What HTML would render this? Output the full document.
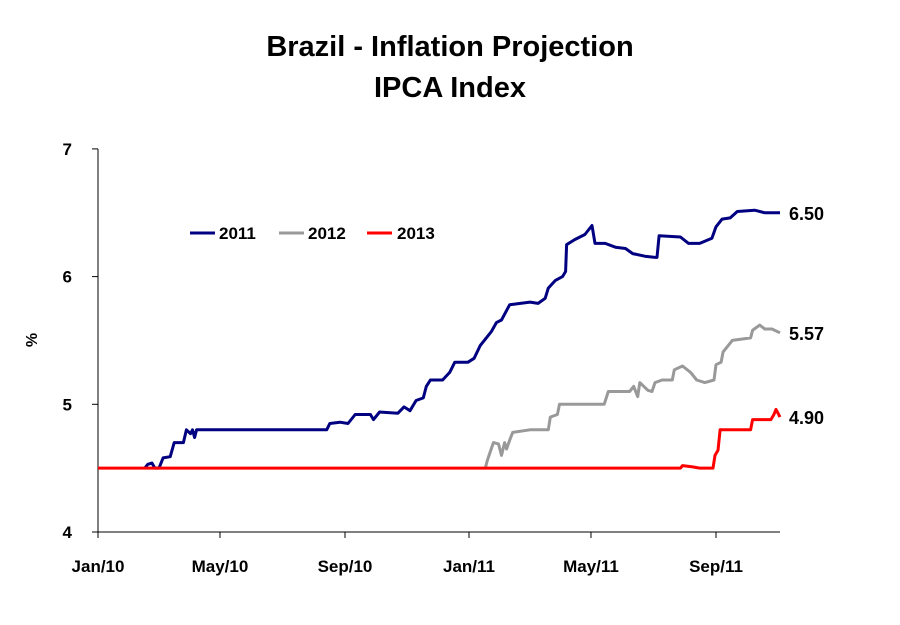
<!DOCTYPE html>
<html><head><meta charset="utf-8"><style>
html,body{margin:0;padding:0;background:#fff;}
svg{display:block;font-family:"Liberation Sans",Arial,sans-serif;}
</style></head><body>
<svg id="chart" width="900" height="625" viewBox="0 0 900 625">
<text x="450" y="56" text-anchor="middle" font-size="29" font-weight="bold">Brazil - Inflation Projection</text>
<text x="450" y="97" text-anchor="middle" font-size="29" font-weight="bold">IPCA Index</text>
<text transform="translate(37,340) rotate(-90)" text-anchor="middle" font-size="16" font-weight="bold">%</text>
<g id="axes"></g>
<g id="series"></g>
<g>
<line x1="190" y1="233" x2="215" y2="233" stroke="#000080" stroke-width="3"/>
<text x="219" y="239" font-size="17" font-weight="bold">2011</text>
<line x1="279" y1="233" x2="304" y2="233" stroke="#999999" stroke-width="3"/>
<text x="308" y="239" font-size="17" font-weight="bold">2012</text>
<line x1="367" y1="233" x2="392" y2="233" stroke="#ff0000" stroke-width="3"/>
<text x="397" y="239" font-size="17" font-weight="bold">2013</text>
</g>
</svg>
<script>
const yTicks=[4,5,6,7];
const xTickLabels=["Jan/10","May/10","Sep/10","Jan/11","May/11","Sep/11"];
const xTickDays=[0,120,243,365,485,608];
const days2011=[46,49,53,56,60,64,71,75,84,87,91,93,95,97,225,228,238,246,253,268,271,277,295,301,307,313,320,323,327,339,346,351,364,370,376,382,387,392,397,405,425,433,440,443,450,457,460,461,469,479,486,489,499,509,519,526,538,548,550,552,573,581,592,604,608,614,622,629,646,656,671];
const vals2011=[4.50,4.53,4.54,4.50,4.50,4.58,4.59,4.70,4.70,4.80,4.77,4.80,4.74,4.80,4.80,4.85,4.86,4.85,4.92,4.92,4.88,4.94,4.93,4.98,4.95,5.03,5.05,5.14,5.19,5.19,5.25,5.33,5.33,5.36,5.46,5.52,5.57,5.64,5.66,5.78,5.80,5.79,5.83,5.91,5.97,6.00,6.04,6.25,6.29,6.33,6.40,6.26,6.26,6.23,6.22,6.18,6.16,6.15,6.15,6.32,6.31,6.26,6.26,6.30,6.39,6.45,6.46,6.51,6.52,6.50,6.50];
const days2012=[381,383,389,394,397,400,402,405,408,425,443,445,452,454,498,502,523,527,531,533,541,545,548,555,565,567,575,583,589,597,606,608,613,615,624,642,644,651,656,663,671];
const vals2012=[4.50,4.56,4.70,4.69,4.60,4.70,4.65,4.72,4.78,4.80,4.80,4.90,4.92,5.00,5.00,5.10,5.10,5.14,5.06,5.17,5.11,5.10,5.17,5.19,5.19,5.27,5.30,5.25,5.19,5.17,5.19,5.31,5.33,5.41,5.50,5.52,5.58,5.62,5.59,5.59,5.56];
const days2013=[0,573,575,585,592,605,607,610,612,642,644,662,665,667,669,671];
const vals2013=[4.5,4.5,4.52,4.51,4.5,4.5,4.6,4.64,4.8,4.8,4.88,4.88,4.92,4.96,4.93,4.90];
const endLabels=["6.50","5.57","4.90"];

const NS="http://www.w3.org/2000/svg";
const X0=98, PXD=(716-98)/608, Y0=532, PXU=127.7;
const xs=d=>X0+d*PXD, ys=v=>Y0-(v-4)*PXU;
function mk(tag,attrs,parent){const e=document.createElementNS(NS,tag);for(const k in attrs)e.setAttribute(k,attrs[k]);parent.appendChild(e);return e;}
const axes=document.getElementById('axes'), ser=document.getElementById('series');
let e=mk('line',{x1:X0,y1:149,x2:X0,y2:Y0,stroke:'#000','stroke-width':1},axes);


e=mk('line',{x1:X0,y1:Y0,x2:780,y2:Y0,stroke:'#000','stroke-width':1},axes);


yTicks.forEach(t=>{
  const y=ys(t);
  let l=mk('line',{x1:X0-6,y1:y,x2:X0,y2:y,stroke:'#000'},axes);
  
  
  let tx=mk('text',{x:X0-26,y:y+6,'text-anchor':'end','font-size':17,'font-weight':'bold'},axes);
  tx.textContent=t;
  
  
});
xTickLabels.forEach((lab,i)=>{
  const x=xs(xTickDays[i]);
  let l=mk('line',{x1:x,y1:Y0,x2:x,y2:Y0+6,stroke:'#000'},axes);
  
  
  let tx=mk('text',{x:x,y:572,'text-anchor':'middle','font-size':17,'font-weight':'bold'},axes);
  tx.textContent=lab;
  
  
});
const series=[[days2011,vals2011,'#000080','line-2011'],[days2012,vals2012,'#999999','line-2012'],[days2013,vals2013,'#ff0000','line-2013']];
series.forEach((s,i)=>{
  const [d,v,c,n]=s;
  const pts=d.map((dd,j)=>xs(dd).toFixed(1)+','+ys(v[j]).toFixed(1)).join(' ');
  let p=mk('polyline',{points:pts,fill:'none',stroke:c,'stroke-width':3,'stroke-linejoin':'round'},ser);
  
  
  const last=v[v.length-1];
  let tx=mk('text',{x:789,y:ys(last)+7,'font-size':18,'font-weight':'bold'},ser);
  tx.textContent=endLabels[i];
  
  
});
</script>
</body></html>
